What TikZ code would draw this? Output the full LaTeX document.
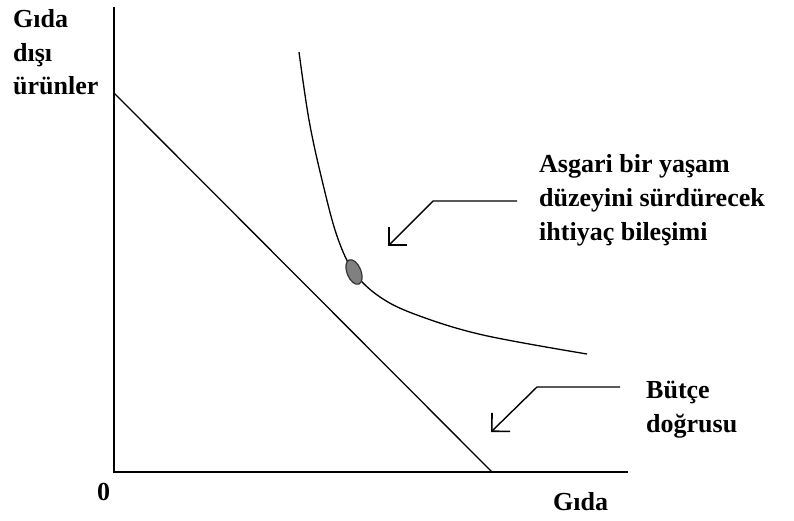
\documentclass[tikz,border=0pt]{standalone}
\usepackage{fontspec}
\setmainfont{Liberation Serif}
\usetikzlibrary{arrows.meta,shapes.geometric}
\begin{document}
\begin{tikzpicture}[x=1pt,y=-1pt,
  lbl/.style={font=\fontsize{26}{34}\selectfont\bfseries, inner sep=0pt, anchor=base west},
  axis/.style={line width=2pt, line cap=rect},
  thin/.style={line width=1.3pt},
  pointer/.style={line width=1.4pt, -{Straight Barb[length=13pt, width=26pt, line width=1.6pt]}}]
\useasboundingbox (0,0) rectangle (794,520);
% axes
\coordinate (Ytop) at (114,8);
\coordinate (O) at (114,472);
\coordinate (Xend) at (627,472);
\draw[axis] (Ytop) -- (O) -- (Xend);
% budget line
\coordinate (B1) at (114,93);
\coordinate (B2) at (492,472);
\draw[thin] (B1) -- (B2);
% indifference curve
\draw[thin] plot[smooth, tension=0.6] coordinates {(299,52) (309,120) (322,180) (337,236) (354,272) (380,297) (417,315) (483,335) (587,354)};
% point
\node (dot) [draw=black!80, fill=black!50, line width=1.2pt, ellipse, minimum width=14pt, minimum height=26pt, inner sep=0pt, rotate=22] at (354,272) {};
% labels y axis
\node[lbl] (y1) at (13,27) {Gıda};
\node[lbl] (y2) at (13,61) {dışı};
\node[lbl] (y3) at (13,94) {ürünler};
\node[lbl] (zero) at (97,500) {0};
\node[lbl] (x1) at (553,510) {Gıda};
% annotation 1
\node[lbl] (a1) at (539,172) {Asgari bir yaşam};
\node[lbl] (a2) at (539,206) {düzeyini sürdürecek};
\node[lbl] (a3) at (539,240) {ihtiyaç bileşimi};
\coordinate (p1s) at (517,201);
\coordinate (p1c) at (433,201);
\coordinate (p1e) at (388,246);
\draw[pointer] (p1s) -- (p1c) -- (p1e);
% annotation 2
\node[lbl] (b1) at (646,398) {Bütçe};
\node[lbl] (b2) at (646,432) {doğrusu};
\coordinate (p2s) at (620,387);
\coordinate (p2c) at (537,387);
\coordinate (p2e) at (491,432);
\draw[pointer] (p2s) -- (p2c) -- (p2e);
\end{tikzpicture}
\end{document}
